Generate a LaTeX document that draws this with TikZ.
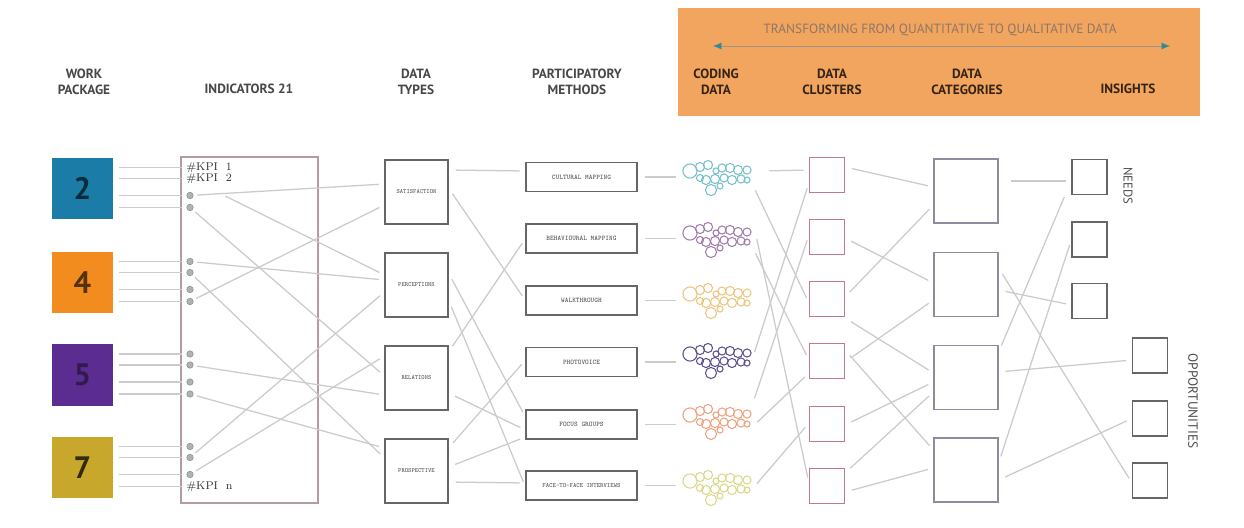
\documentclass[tikz,border=0pt]{standalone}
\usepackage{fontspec}
\newfontfamily\headfont{PT Sans}
\usetikzlibrary{calc}
\usetikzlibrary{arrows.meta}

\definecolor{wpblue}{HTML}{1B7CA8}
\definecolor{wporange}{HTML}{F28C1E}
\definecolor{wppurple}{HTML}{5C2D91}
\definecolor{wpgold}{HTML}{C8A82C}
\definecolor{banner}{HTML}{F1A55E}
\definecolor{bannertext}{HTML}{8E7766}
\definecolor{teal}{HTML}{2E8C94}
\definecolor{linegrey}{HTML}{CBCBCB}
\definecolor{clpink}{HTML}{C27A8A}
\definecolor{catgrey}{HTML}{8C8CA0}
\definecolor{indframe}{HTML}{B49AA4}
\definecolor{bteal}{HTML}{74BFCB}
\definecolor{bmauve}{HTML}{A07AA8}
\definecolor{bgold}{HTML}{EDC47E}
\definecolor{bpurple}{HTML}{5E4E8E}
\definecolor{bsalmon}{HTML}{EBA27E}
\definecolor{blime}{HTML}{D9D888}

% one cluster of coding bubbles round a node
\newcommand{\bubbles}[2]{%
  \foreach \dx/\dy/\r in {-27/-5/7,-17/-9/4.5,-9/-11/4.5,-1/-5/3,5/-8/4,13/-8/4.5,21/-6/4.5,30/-6/4,
                          -17/2/3.5,-11/4/4.5,-2/3/4.5,7/2/4,15/4/4.5,24/3/4,30/4/3,-6/14/5.5,3/10/3}
    \draw[#2, line width=0.75pt] ($(#1)+(\dx,\dy)$) circle[radius=\r*0.72pt];%
}

\begin{document}
\begin{tikzpicture}[x=0.025cm,y=-0.025cm,
    head/.style={font=\headfont\bfseries\fontsize{9.5}{11.5}\selectfont, text=black!72, align=center},
    wp/.style={minimum size=1.525cm, inner sep=0pt, font=\headfont\bfseries\fontsize{22}{22}\selectfont},
    tbox/.style={draw=black!60, line width=0.8pt, minimum width=1.575cm, minimum height=1.6cm, inner sep=0pt, font=\ttfamily\bfseries\fontsize{4.5}{5}\selectfont, text=black!65},
    mbox/.style={draw=black!60, line width=0.8pt, minimum width=2.775cm, minimum height=0.725cm, inner sep=0pt, font=\ttfamily\bfseries\fontsize{5}{6}\selectfont, text=black!65},
    codenode/.style={minimum width=1.75cm, minimum height=0.8cm, inner sep=0pt},
    clbox/.style={draw=clpink, line width=0.8pt, minimum size=0.875cm, inner sep=0pt},
    catbox/.style={draw=catgrey, line width=0.9pt, minimum size=1.6cm, inner sep=0pt},
    insbox/.style={draw=black!60, line width=0.8pt, minimum size=0.875cm, inner sep=0pt},
    link/.style={draw=linegrey, line width=0.9pt, shorten <=5pt, shorten >=4pt},
    kpi/.style={font=\fontsize{8}{8}\selectfont, inner sep=0pt, anchor=west, text=black!80}
  ]
    \useasboundingbox (0,0) rectangle (1244,527);

    %banner
    \fill[banner] (678,8) rectangle (1200,116);
    \node[font=\headfont\fontsize{9.5}{10}\selectfont, text=bannertext] (trans) at (940,30) {TRANSFORMING FROM QUANTITATIVE TO QUALITATIVE DATA};
    \coordinate (arl) at (713,46);
    \coordinate (arr) at (1170,46);
    \draw[bannertext!80, line width=0.6pt, {Latex[length=6pt,width=5pt,color=teal]}-{Latex[length=6pt,width=5pt,color=teal]}] (arl) -- (arr);

    %headers
    \node[head] (hwp) at (84,82) {WORK\\PACKAGE};
    \node[head] (hind) at (249,89) {INDICATORS 21};
    \node[head] (htype) at (416,82) {DATA\\TYPES};
    \node[head] (hmeth) at (577,82) {PARTICIPATORY\\METHODS};
    \node[head, text=black!78!banner] (hcode) at (716,82) {CODING\\DATA};
    \node[head, text=black!78!banner] (hclus) at (832,82) {DATA\\CLUSTERS};
    \node[head, text=black!78!banner] (hcat) at (967,82) {DATA\\CATEGORIES};
    \node[head, text=black!78!banner] (hins) at (1128,89) {INSIGHTS};

    %work packages
    \node[wp, fill=wpblue, text=wpblue!35!black] (wp2) at (82.5,188.5) {2};
    \node[wp, fill=wporange, text=wporange!35!black] (wp4) at (82.5,282.5) {4};
    \node[wp, fill=wppurple, text=wppurple!55!black] (wp5) at (82.5,375) {5};
    \node[wp, fill=wpgold, text=wpgold!25!black] (wp7) at (82.5,467.5) {7};

    %indicators
    \node[draw=indframe, line width=0.8pt, minimum width=3.425cm, minimum height=8.65cm, inner sep=0pt] (ind) at (249.5,330) {};
    \foreach \w/\yc in {2/188.5,4/282.5,5/375,7/467.5}{
      \foreach \o [count=\i] in {-21,-10,7,19}{
        \coordinate (k\w\i) at (190,\yc+\o);
        \draw[linegrey, line width=0.9pt, shorten <=4pt, shorten >=6pt] (wp\w.east |- k\w\i) -- (k\w\i);
      }
    }
    \foreach \k in {k23,k24,k41,k42,k43,k44,k51,k52,k53,k54,k71,k72,k73}
      \filldraw[fill=black!30, draw=black!45, line width=0.4pt] (\k) circle[radius=2.3pt];
    \node[kpi] (kpi1) at ($(k21)+(-4,0)$) {\#KPI~~1};
    \node[kpi] (kpi2) at ($(k22)+(-4,0)$) {\#KPI~~2};
    \node[kpi] (kpin) at ($(k74)+(-4,0)$) {\#KPI~~n};

    %data types
    \node[tbox] (t1) at (416.5,192) {SATISFACTION};
    \node[tbox] (t2) at (416.5,285) {PERCEPTIONS};
    \node[tbox] (t3) at (416.5,378) {RELATIONS};
    \node[tbox] (t4) at (416.5,471) {PROSPECTIVE};

    %methods
    \node[mbox] (m1) at (581.5,177) {CULTURAL MAPPING};
    \node[mbox] (m2) at (581.5,238.5) {BEHAVIOURAL MAPPING};
    \node[mbox] (m3) at (581.5,300.5) {WALKTHROUGH};
    \node[mbox] (m4) at (581.5,362) {PHOTOVOICE};
    \node[mbox] (m5) at (581.5,424.5) {FOCUS GROUPS};
    \node[mbox, font=\ttfamily\bfseries\fontsize{4.6}{5}\selectfont] (m6) at (581.5,485.5) {FACE-TO-FACE INTERVIEWS};

    %coding data
    \node[codenode] (c1) at (717,176) {};
    \node[codenode] (c2) at (717,238) {};
    \node[codenode] (c3) at (717,299) {};
    \node[codenode] (c4) at (717,359) {};
    \node[codenode] (c5) at (717,420) {};
    \node[codenode] (c6) at (717,486) {};
    \bubbles{c1}{bteal}
    \bubbles{c2}{bmauve}
    \bubbles{c3}{bgold}
    \bubbles{c4}{bpurple}
    \bubbles{c5}{bsalmon}
    \bubbles{c6}{blime}

    %clusters
    \node[clbox] (l1) at (827,175) {};
    \node[clbox] (l2) at (827,237) {};
    \node[clbox] (l3) at (827,299) {};
    \node[clbox] (l4) at (827,361) {};
    \node[clbox] (l5) at (827,424) {};
    \node[clbox] (l6) at (827,486) {};

    %categories
    \node[catbox] (g1) at (966,191) {};
    \node[catbox] (g2) at (966,284.5) {};
    \node[catbox] (g3) at (966,377.5) {};
    \node[catbox] (g4) at (966,470) {};

    %insights
    \node[insbox] (n1) at (1089.5,177) {};
    \node[insbox] (n2) at (1089.5,239.5) {};
    \node[insbox] (n3) at (1089.5,301) {};
    \node[insbox] (o1) at (1150,355.5) {};
    \node[insbox] (o2) at (1150,418.5) {};
    \node[insbox] (o3) at (1150,480.5) {};
    \node[rotate=-90, font=\headfont\fontsize{9}{10}\selectfont, text=black!70] (needs) at (1128,186) {NEEDS};
    \node[rotate=-90, font=\headfont\fontsize{9.5}{10}\selectfont, text=black!70] (opps) at (1193,401) {OPPORTUNITIES};

    %indicators to data types
    \draw[link, shorten <=28pt] (k22) -- ($(t2.west)+(0,-10)$);
    \draw[link] (k23) -- ($(t1.west)+(0,-8)$);
    \draw[link] (k24) -- ($(t3.west)+(0,-2)$);
    \draw[link] (k41) -- ($(t2.west)+(0,-5)$);
    \draw[link] (k42) -- ($(t4.west)+(0,-13)$);
    \draw[link] (k44) -- ($(t1.west)+(0,13)$);
    \draw[link] (k52) -- ($(t3.west)+(0,17)$);
    \draw[link] (k54) -- ($(t4.west)+(0,-23)$);
    \draw[link] (k72) -- ($(t2.west)+(0,7)$);
    \draw[link] (k73) -- ($(t3.west)+(0,-22)$);

    %data types to methods
    \draw[link] ($(t1.east)+(0,-22)$) -- ($(m1.west)+(0,-6)$);
    \draw[link] ($(t1.east)+(0,-4)$) -- (m3.west);
    \draw[link] ($(t2.east)+(0,-12)$) -- ($(m5.west)+(0,-7.5)$);
    \draw[link] ($(t2.east)+(0,15)$) -- ($(m6.west)+(0,1.5)$);
    \draw[link] ($(t3.east)+(0,-26)$) -- (m2.west);
    \draw[link] ($(t3.east)+(0,15)$) -- ($(m5.west)+(0,5.5)$);
    \draw[link] ($(t4.east)+(0,-23)$) -- ($(m4.west)+(0,-2)$);
    \draw[link] ($(t4.east)+(0,-4)$) -- ($(m5.west)+(0,12.5)$);
    \draw[link] ($(t4.east)+(0,11)$) -- ($(m6.west)+(0,-2.5)$);

    %methods to coding data
    \foreach \i in {1,...,6}
      \draw[link] (m\i.east) -- (m\i.east -| c\i.west);

    %coding data to clusters
    \draw[link] ($(c1.east)+(10,-5)$) -- ($(l1.west)+(0,-5)$);
    \draw[link] ($(c1.east)+(0,8)$) -- ($(l3.west)+(0,4)$);
    \draw[link] ($(c2.east)+(3,-6)$) -- ($(l6.west)+(0,-3)$);
    \draw[link] ($(c2.east)+(0,9)$) -- ($(l4.west)+(0,-1)$);
    \draw[link] (c4.east) -- ($(l1.west)+(0,8)$);
    \draw[link] ($(c5.east)+(0,-15)$) -- ($(l2.west)+(0,-2)$);
    \draw[link] ($(c5.east)+(0,7)$) -- ($(l4.west)+(0,12)$);
    \draw[link] ($(c6.east)+(0,3)$) -- ($(l5.west)+(0,-1)$);

    %clusters to categories
    \draw[link] ($(l1.east)+(0,-8)$) -- ($(g1.west)+(0,-4)$);
    \draw[link] ($(l2.east)+(0,1)$) -- ($(g2.west)+(0,-1.5)$);
    \draw[link] ($(l3.east)+(0,-2)$) -- ($(g1.west)+(0,14)$);
    \draw[link] ($(l3.east)+(0,19)$) -- ($(g3.west)+(0,-4.5)$);
    \draw[link] ($(l4.east)+(0,1)$) -- ($(g2.west)+(0,15.5)$);
    \draw[link] ($(l4.east)+(0,-11)$) -- ($(g4.west)+(0,-20)$);
    \draw[link] ($(l5.east)+(0,1)$) -- ($(g3.west)+(0,4.5)$);
    \draw[link] ($(l6.east)+(0,-13)$) -- ($(g3.west)+(0,14.5)$);
    \draw[link] ($(l6.east)+(0,6)$) -- ($(g4.west)+(0,-2)$);

    %categories to insights
    \draw[link] ($(g1.east)+(5,-10)$) -- ($(n1.west)+(0,4)$);
    \draw[link] ($(g3.east)+(0,-25.5)$) -- ($(n1.west)+(-5,15)$);
    \draw[link] ($(g4.east)+(0,-7)$) -- ($(n2.west)+(0,0)$);
    \draw[link] ($(g2.east)+(0,-16.5)$) -- ($(o3.west)+(0,2.5)$);
    \draw[link] ($(g2.east)+(0,5.5)$) -- ($(n3.west)+(0,4)$);
    \draw[link] ($(g3.east)+(0,-5.5)$) -- ($(o1.west)+(0,4.5)$);
    \draw[link] ($(g4.east)+(0,10)$) -- ($(o2.west)+(0,0)$);

\end{tikzpicture}
\end{document}
